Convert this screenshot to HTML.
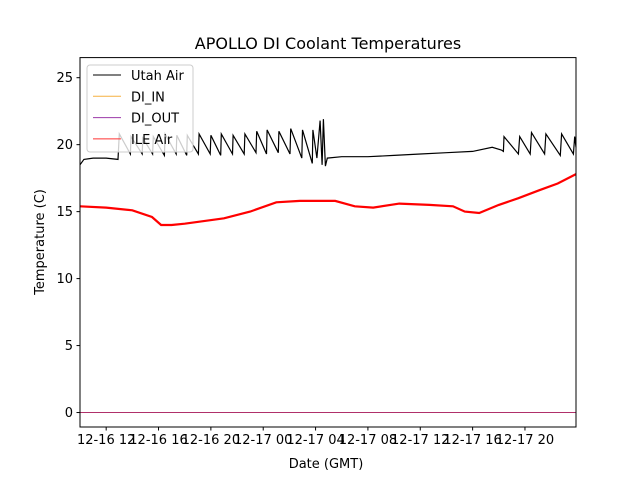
<!DOCTYPE html>
<html><head><meta charset="utf-8"><style>body{margin:0;background:#fff}svg{font-family:"DejaVu Sans","Liberation Sans",sans-serif}</style></head>
<body>
<svg id="c" width="640" height="480" viewBox="0 0 640 480"></svg>
<script>
const xTickHours=[12,16,20,24,28,32,36,40,44];
const xTickLabels=["12-16 12","12-16 16","12-16 20","12-17 00","12-17 04","12-17 08","12-17 12","12-17 16","12-17 20"];
const yTicks=[0,5,10,15,20,25];
const utahT=[10.0,10.3,11,12,12.9,13.0,13.85,13.9,14.75,14.8,15.55,15.6,16.45,16.5,17.35,17.4,18.15,18.2,19.05,19.1,19.95,20.0,20.75,20.8,21.65,21.7,22.55,22.6,23.45,23.5,24.25,24.3,25.15,25.2,26.05,26.1,26.95,27.0,27.75,27.8,28.1,28.35,28.5,28.6,28.75,28.9,30,32,34,36,38,40,41.5,42.2,42.35,42.4,43.5,43.6,44.4,44.5,45.5,45.6,46.7,46.8,47.7,47.8,47.9];
const utahV=[18.5,18.9,19.0,19.0,18.9,20.8,19.3,20.6,19.3,20.5,19.3,20.6,19.2,20.8,19.3,20.7,19.2,20.7,19.3,20.8,19.3,20.7,19.2,20.8,19.3,20.7,19.3,20.8,19.4,21.0,19.3,21.1,19.4,21.0,19.3,21.2,19.0,21.1,18.6,21.1,19.0,21.8,18.5,21.9,18.4,19.0,19.1,19.1,19.2,19.3,19.4,19.5,19.8,19.6,19.5,20.6,19.3,20.6,19.3,20.9,19.3,20.8,19.2,20.8,19.3,20.6,19.8];
const ileT=[10.0,12,14,15.5,16.2,17,18,21,23,25,26.8,28,29.5,31,32.4,34.4,36.7,38.5,39.4,40.5,42,43.5,45.1,46.5,47.9];
const ileV=[15.4,15.3,15.1,14.6,14.0,14.0,14.1,14.5,15.0,15.7,15.8,15.8,15.8,15.4,15.3,15.6,15.5,15.4,15.0,14.9,15.5,16.0,16.6,17.1,17.8];
const diOutT=[10.0,47.9];
const diOutV=[0,0];
const x0=80,x1=576,y0=57.6,y1=427,hMin=10,hMax=47.9,vMin=-1.08,vMax=26.5;
const X=h=>x0+(h-hMin)/(hMax-hMin)*(x1-x0);
const Y=v=>y1-(v-vMin)/(vMax-vMin)*(y1-y0);
const svg=document.getElementById('c');const NS='http://www.w3.org/2000/svg';
function mk(t,a,p){const e=document.createElementNS(NS,t);for(const k in a)e.setAttribute(k,a[k]);(p||svg).appendChild(e);return e;}
function line(T,V,col,w,name){const d=T.map((t,i)=>(i?'L':'M')+X(t).toFixed(1)+','+Y(V[i]).toFixed(1)).join('');const p=mk('path',{d:d,fill:'none',stroke:col,'stroke-width':w});

}
line(diOutT,diOutV,'#b0306a',1,'di-out-line');
line(utahT,utahV,'#000',1.2,'utah-air-line');
line(ileT,ileV,'#ff0000',2.2,'ile-air-line');
const fr=mk('rect',{x:x0,y:y0,width:x1-x0,height:y1-y0,fill:'none',stroke:'#000','stroke-width':1});


xTickHours.forEach((h,i)=>{mk('line',{x1:X(h),x2:X(h),y1:y1,y2:y1+3.5,stroke:'#000'});const t=mk('text',{x:X(h),y:y1+17,'font-size':13,'text-anchor':'middle'});t.textContent=xTickLabels[i];

});
yTicks.forEach(v=>{mk('line',{x1:x0-3.5,x2:x0,y1:Y(v),y2:Y(v),stroke:'#000'});const t=mk('text',{x:x0-7,y:Y(v)+4.5,'font-size':13,'text-anchor':'end'});t.textContent=v;

});
const ti=mk('text',{x:328,y:49,'font-size':16,'text-anchor':'middle'});ti.textContent='APOLLO DI Coolant Temperatures';


const xl=mk('text',{x:326,y:468,'font-size':13,'text-anchor':'middle'});xl.textContent='Date (GMT)';


const yl=mk('text',{x:44,y:242,'font-size':13,'text-anchor':'middle',transform:'rotate(-90 44 242)'});yl.textContent='Temperature (C)';


const lg=mk('g',{});


mk('rect',{x:87,y:65,width:106,height:87,rx:3,fill:'rgba(255,255,255,0.8)',stroke:'#ccc'},lg);
const names=['Utah Air','DI_IN','DI_OUT','ILE Air'],cols=['#000','#f5b041','#9b3aa8','#ff3333'];
names.forEach((n,i)=>{const yy=75+i*21.3;mk('line',{x1:93,x2:121,y1:yy,y2:yy,stroke:cols[i],'stroke-width':1},lg);const t=mk('text',{x:131,y:yy+5,'font-size':13},lg);t.textContent=n;

});
</script>
</body></html>
